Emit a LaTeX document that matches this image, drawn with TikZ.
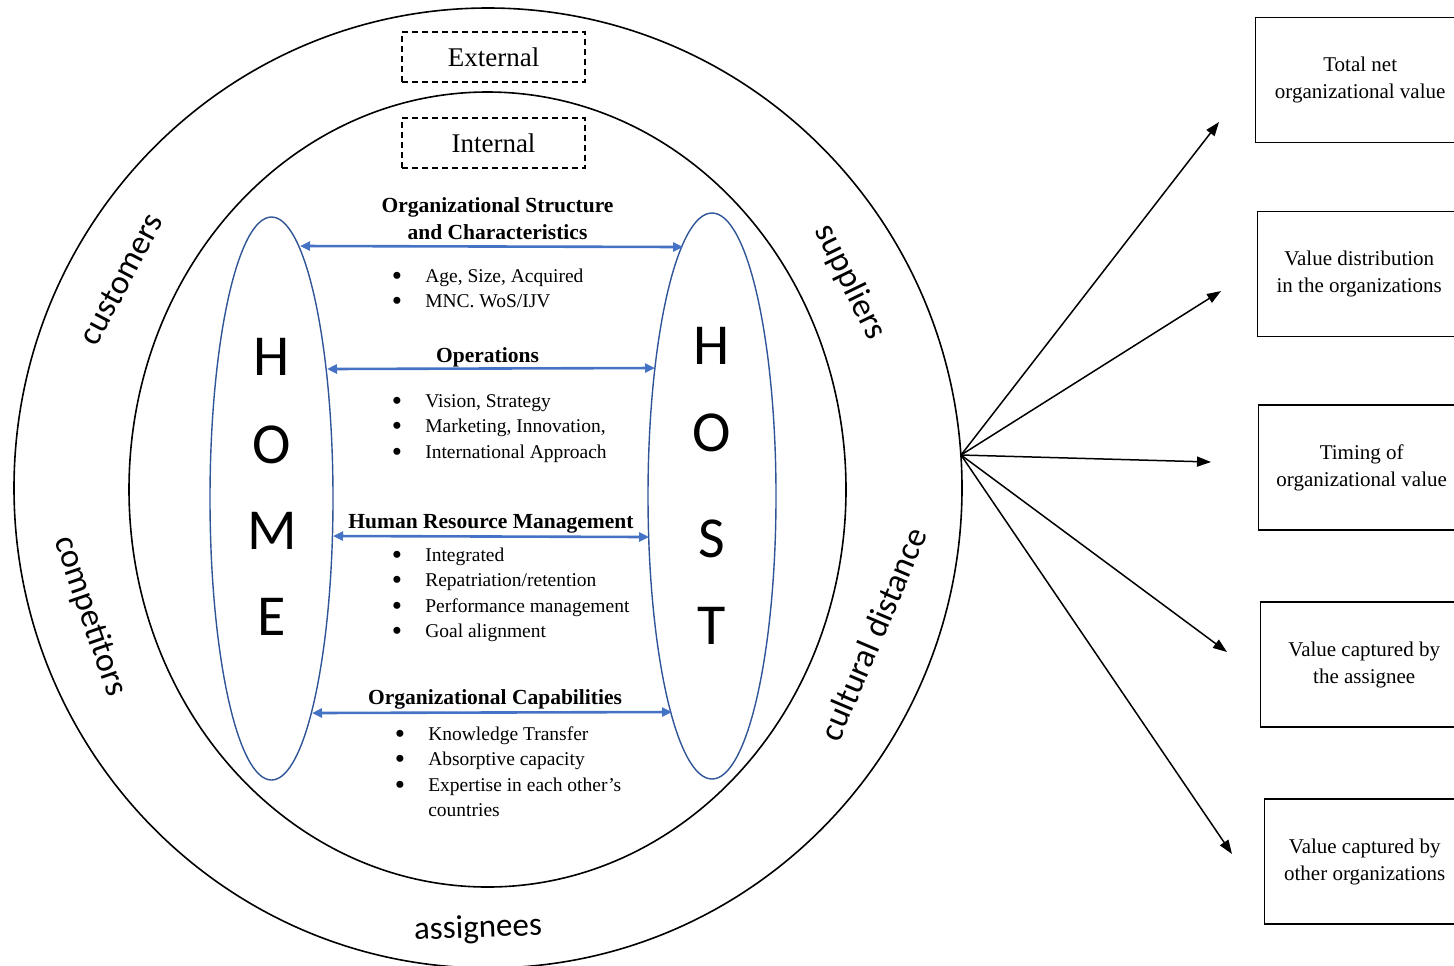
\documentclass[tikz,border=0pt]{standalone}
\usepackage{fontspec}
\usepackage{graphicx}
\setmainfont{Liberation Serif}
\newfontfamily\calibrifont{Carlito}
\usetikzlibrary{arrows.meta,shapes.geometric}
\definecolor{arrowblue}{RGB}{68,114,196}
\definecolor{ellblue}{RGB}{47,85,151}
\newcommand{\bul}{\makebox[16.7pt][l]{\raisebox{-0.17em}{\scalebox{1.5}{\textbullet}}}}
\begin{document}
\begin{tikzpicture}[x=0.5pt,y=-0.5pt,
  ring/.style={draw=black,line width=0.8pt},
  homehost/.style={draw=ellblue,line width=0.7pt,ellipse,inner sep=0pt},
  bigletter/.style={font=\calibrifont\fontsize{29}{29}\selectfont,inner sep=0pt},
  ringword/.style={font=\calibrifont\fontsize{17}{17}\selectfont,inner sep=0pt},
  dashbox/.style={draw,dash pattern=on 3pt off 2pt,line width=0.6pt,minimum width=91.5pt,minimum height=25pt,inner sep=0pt,font=\fontsize{13.5}{16}\selectfont},
  heading/.style={font=\bfseries\fontsize{10.75}{13.5}\selectfont,inner sep=0pt,anchor=base},
  bullets/.style={font=\fontsize{9.75}{12.75}\selectfont,inner sep=0pt,anchor=base west},
  link/.style={draw=arrowblue,line width=1.3pt,{Triangle[length=5pt,width=4.5pt]}-{Triangle[length=5pt,width=4.5pt]}},
  outarrow/.style={draw=black,line width=0.75pt,-{Triangle[length=7pt,width=5pt]}},
  valuebox/.style={draw,line width=0.7pt,minimum height=62.5pt,inner sep=0pt,align=center,anchor=west,font=\fontsize{10.5}{13.5}\selectfont}
]
\useasboundingbox (0,0) rectangle (1454,965);
\clip (0,0) rectangle (1454,965);

% rings
\draw[ring] (488,488) ellipse [x radius=474, y radius=480];
\draw[ring] (487.5,489.5) ellipse [x radius=358.5, y radius=397.5];

% dashed labels
\node[dashbox] (external) at (493.5,57) {External};
\node[dashbox] (internal) at (493.5,143) {Internal};

% ring words
\node[ringword,rotate=62] (customers) at (121,279) {customers};
\node[ringword,rotate=-64] (suppliers) at (850,282) {suppliers};
\node[ringword,rotate=-71] (competitors) at (90,616) {competitors};
\node[ringword,rotate=67] (cultural) at (873,634) {cultural distance};
\node[ringword,font=\calibrifont\fontsize{16.5}{16.5}\selectfont,rotate=2] (assignees) at (478,929) {assignees};

% HOME / HOST ellipses
\node[homehost,minimum width=61.5pt,minimum height=281.5pt] (home) at (271.5,498.5) {};
\node[homehost,minimum width=64pt,minimum height=283pt] (host) at (712,496) {};

\node[bigletter] (h1) at (272,357) {H};
\node[bigletter] (h2) at (272,445) {O};
\node[bigletter] (h3) at (272,531) {M};
\node[bigletter] (h4) at (272,617) {E};
\node[bigletter] (s1) at (712,346) {H};
\node[bigletter] (s2) at (712,433) {O};
\node[bigletter] (s3) at (712,539) {S};
\node[bigletter] (s4) at (712,626) {T};

% headings
\node[heading] (osc) at (497.5,212) {\begin{tabular}[t]{@{}c@{}}Organizational Structure\\and Characteristics\end{tabular}};
\node[heading] (ops) at (487.5,362) {Operations};
\node[heading] (hrm) at (491,528) {Human Resource Management};
\node[heading] (ocap) at (495,704) {Organizational Capabilities};

% bullet lists
\node[bullets] (osclist) at (391.5,282) {\begin{tabular}[t]{@{}l@{}}\bul Age, Size, Acquired\\\bul MNC. WoS/IJV\end{tabular}};
\node[bullets] (opslist) at (391.5,407) {\begin{tabular}[t]{@{}l@{}}\bul Vision, Strategy\\\bul Marketing, Innovation,\\\bul International Approach\end{tabular}};
\node[bullets] (hrmlist) at (391.5,561) {\begin{tabular}[t]{@{}l@{}}\bul Integrated\\\bul Repatriation/retention\\\bul Performance management\\\bul Goal alignment\end{tabular}};
\node[bullets] (ocaplist) at (394.5,740) {\begin{tabular}[t]{@{}l@{}}\bul Knowledge Transfer\\\bul Absorptive capacity\\\bul Expertise in each other’s\\\makebox[16.7pt]{}countries\end{tabular}};

% blue connectors between HOME and HOST
\coordinate (a1l) at (300,246);
\coordinate (a1r) at (683,247);
\coordinate (a2l) at (327,369);
\coordinate (a2r) at (655,368);
\coordinate (a3l) at (333,536);
\coordinate (a3r) at (649,537);
\coordinate (a4l) at (312,713);
\coordinate (a4r) at (672,712);
\draw[link] (a1l) -- (a1r);
\draw[link] (a2l) -- (a2r);
\draw[link] (a3l) -- (a3r);
\draw[link] (a4l) -- (a4r);

% value boxes
\node[valuebox,minimum width=104.5pt] (v1) at (1255,80) {Total net\\organizational value};
\node[valuebox,minimum width=101.5pt] (v2) at (1257,274) {Value distribution\\in the organizations};
\node[valuebox,minimum width=103pt] (v3) at (1258,467.5) {Timing of\\organizational value};
\node[valuebox,minimum width=103.5pt] (v4) at (1260,664.5) {Value captured by\\the assignee};
\node[valuebox,minimum width=100pt] (v5) at (1264,861.5) {Value captured by\\other organizations};

% output arrows
\coordinate (hub) at (961,455);
\coordinate (t1) at (1219,122);
\coordinate (t2) at (1221,291);
\coordinate (t3) at (1211,462);
\coordinate (t4) at (1227,652);
\coordinate (t5) at (1232,854);
\draw[outarrow] (hub) -- (t1);
\draw[outarrow] (hub) -- (t2);
\draw[outarrow] (hub) -- (t3);
\draw[outarrow] (hub) -- (t4);
\draw[outarrow] (hub) -- (t5);
\end{tikzpicture}
\end{document}
